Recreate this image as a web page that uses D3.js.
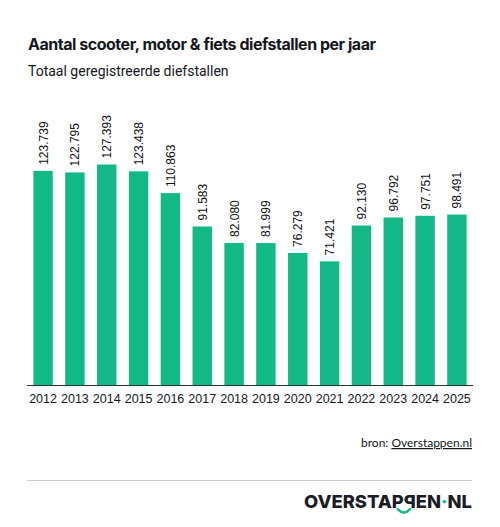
<!DOCTYPE html>
<html>
<head>
<meta charset="utf-8">
<script src="https://cdn.jsdelivr.net/npm/d3@7"></script>
<style>
  body { margin: 0; background: #fff; }
</style>
</head>
<body>
<script>
// data
const years = ['2012', '2013', '2014', '2015', '2016', '2017', '2018', '2019', '2020', '2021', '2022', '2023', '2024', '2025'];
const thefts = [123739, 122795, 127393, 123438, 110863, 91583, 82080, 81999, 76279, 71421, 92130, 96792, 97751, 98491];
const labels = ['123.739', '122.795', '127.393', '123.438', '110.863', '91.583', '82.080', '81.999', '76.279', '71.421', '92.130', '96.792', '97.751', '98.491'];

const data = years.map((y, i) => ({ year: y, value: thefts[i], label: labels[i] }));

const svg = d3.select('body').append('svg')
    .attr('width', 500)
    .attr('height', 527);

svg.append('rect')
    .attr('width', 500)
    .attr('height', 527)
    .attr('fill', '#fff');

// titles
svg.append('text')
    .attr('x', 28)
    .attr('y', 50)
    .style('font-family', 'Inter, sans-serif')
    .style('font-weight', 700)
    .style('font-size', '16px')
    .style('fill', '#15171c')
    .attr('textLength', 348)
    .text('Aantal scooter, motor & fiets diefstallen per jaar');

svg.append('text')
    .attr('x', 28)
    .attr('y', 76)
    .style('font-family', 'Roboto, sans-serif')
    .style('font-size', '14px')
    .style('fill', '#15171c')
    .text('Totaal geregistreerde diefstallen');

// scales
const x = d3.scaleBand()
    .domain(years)
    .range([27, 473])
    .paddingInner(0.39)
    .paddingOuter(0.2);

const y = d3.scaleLinear()
    .domain([0, d3.max(thefts)])
    .range([385, 164.5]);

// bars
svg.selectAll('rect.bar')
    .data(data)
    .enter()
  .append('rect')
    .attr('class', 'bar')
    .attr('x', d => x(d.year))
    .attr('y', d => y(d.value))
    .attr('width', x.bandwidth())
    .attr('height', d => y(0) - y(d.value))
    .attr('fill', '#12b886');

// value labels (rotated)
svg.selectAll('text.val')
    .data(data)
    .enter()
  .append('text')
    .attr('class', 'val')
    .attr('transform', d => 'translate(' + (x(d.year) + x.bandwidth() / 2 + 4.5) + ',' + (y(d.value) - 6) + ') rotate(-90)')
    .style('font-family', '"Liberation Sans", Arial, sans-serif')
    .style('font-size', '12px')
    .style('fill', '#111')
    .text(d => d.label);

// x axis
const xAxis = svg.append('g')
    .attr('transform', 'translate(0,385)')
    .call(d3.axisBottom(x).tickSize(0).tickPadding(9));

xAxis.select('.domain')
    .attr('d', 'M27,0.5H473')
    .attr('stroke', '#333');

xAxis.selectAll('text')
    .style('font-family', '"Liberation Sans", Arial, sans-serif')
    .style('font-size', '12.5px')
    .style('font-weight', 500)
    .style('fill', '#15171c');

// source
const src = svg.append('text')
    .attr('x', 472)
    .attr('y', 447)
    .attr('text-anchor', 'end')
    .style('font-family', 'Lato, sans-serif')
    .style('font-size', '12px')
    .style('fill', '#15171c');
src.append('tspan').text('bron: ');
src.append('tspan').style('text-decoration', 'underline').text('Overstappen.nl');

// separator
svg.append('line')
    .attr('x1', 27).attr('x2', 472)
    .attr('y1', 480.5).attr('y2', 480.5)
    .attr('stroke', '#cfcfcf')
    .attr('stroke-width', 1);

// logo: OVERSTAP + mirrored P + EN · NL, scaled to fit
const logo = svg.append('g');
const parts = [
    { t: 'OVERSTAP', c: '#1a1d26' },
    { t: 'P', c: '#1a1d26', flip: true },
    { t: 'EN', c: '#1a1d26' },
    { t: '·', c: '#12b886' },
    { t: 'NL', c: '#1a1d26' }
];
let cx = 0;
let joint = 0;
parts.forEach(p => {
    const t = logo.append('text')
        .attr('y', 0)
        .style('font-family', 'Inter, sans-serif')
        .style('font-weight', 800)
        .style('font-size', '18px')
        .style('fill', p.c)
        .text(p.t);
    const w = t.node().getComputedTextLength();
    if (p.flip) {
        joint = cx;
        t.attr('transform', 'translate(' + (cx + w) + ',0) scale(-1,1)');
    } else {
        t.attr('x', cx);
    }
    cx += w;
});
logo.append('path')
    .attr('d', 'M' + (joint - 6) + ',1 Q' + joint + ',8 ' + (joint + 6) + ',1')
    .attr('fill', 'none')
    .attr('stroke', '#12b886')
    .attr('stroke-width', 2.4)
    .attr('stroke-linecap', 'round');
const k = 168 / cx;
logo.attr('transform', 'translate(304,508) scale(' + k + ',1)');
</script>
</body>
</html>
